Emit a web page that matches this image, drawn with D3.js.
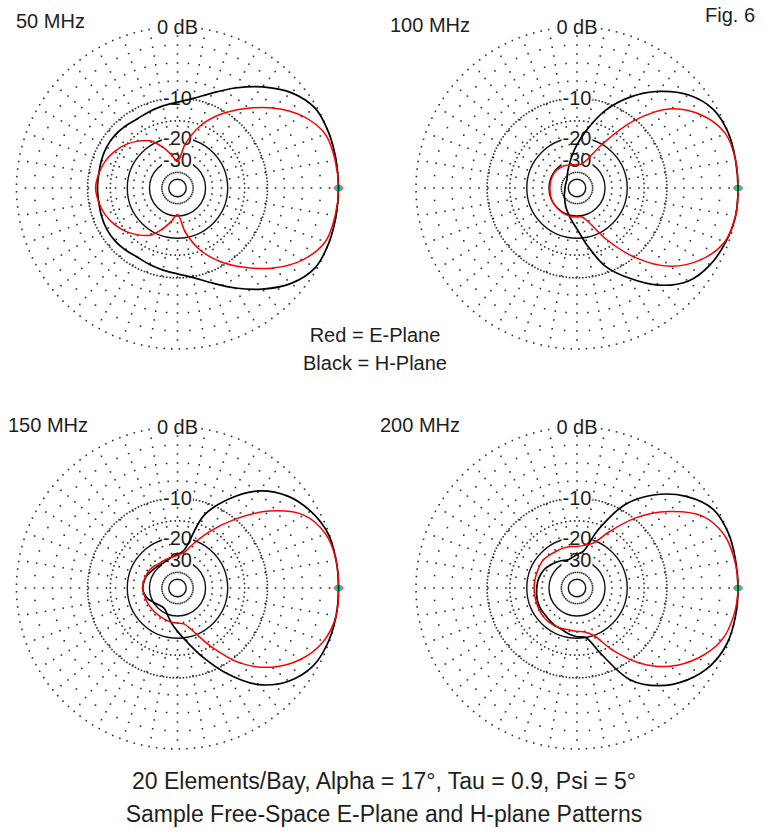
<!DOCTYPE html>
<html>
<head>
<meta charset="utf-8">
<script src="https://cdn.jsdelivr.net/npm/d3@7"></script>
<style>
  body { margin: 0; background: #fff; }
  svg text { font-family: Arial, "Liberation Sans", sans-serif; fill: #1e1e1e; }
</style>
</head>
<body>
<svg id="chart" width="767" height="836"></svg>
<script>
// Azimuth angles (degrees, counter-clockwise from the forward direction)
const angles = [0, 10, 20, 30, 40, 50, 60, 70, 80, 90, 100, 110, 120, 130, 140, 150, 160, 170,
                180, 190, 200, 210, 220, 230, 240, 250, 260, 270, 280, 290, 300, 310, 320, 330, 340, 350];

const freqLabels = ["50 MHz", "100 MHz", "150 MHz", "200 MHz"];
const ringLevels = [0, -10, -20, -30, -40, -50];
const ringLabels = ["0 dB", "-10", "-20", "-30"];

// Relative field strength in dB, one value per azimuth angle
const ePlane50 = [0, -0.1, -0.4, -1.9, -4.4, -7.6, -11, -15.3, -22, -31, -27, -22.5, -18.6, -16.6, -14.9, -13.6, -12.6, -12,
                  -11.6, -12, -12.6, -13.6, -14.9, -16.6, -18.6, -22.5, -27, -31, -22, -15.3, -11, -7.6, -4.4, -1.9, -0.4, -0.1];
const hPlane50 = [0, 0, 0, -0.2, -1.4, -3.4, -5.7, -8, -9.8, -10.8, -11.3, -11.7, -12, -11.8, -11.6, -11.6, -11.8, -12,
                  -12, -12, -11.8, -11.6, -11.6, -11.8, -12, -11.7, -11.3, -10.8, -9.8, -8, -5.7, -3.4, -1.4, -0.2, 0, 0];

const ePlane100 = [0, 0, -0.3, -1.8, -4.6, -10.5, -19.8, -28.5, -32.5, -33, -33, -32.5, -31.5, -31, -30.6, -30.5, -30.5, -30.6,
                   -30.6, -30.5, -30.2, -30, -30, -29.8, -29.6, -29.5, -29.5, -29.4, -29.2, -25, -17, -9.8, -4.8, -2, -0.4, 0];
const hPlane100 = [0, 0, 0, -0.4, -1.8, -4.2, -7.4, -11.5, -17, -22.5, -28, -33, -37, -40.5, -43, -44, -44.5, -44.6,
                   -44.6, -44, -43, -41, -39.5, -37, -34, -31, -27.5, -23.5, -17.5, -11.3, -7.5, -4.1, -1.8, -0.8, -0.3, 0];

const ePlane150 = [0, 0, -0.35, -1.7, -5.1, -10, -15.4, -21, -25.8, -27.3, -28, -28.3, -28.5, -28.3, -27.5, -27, -26.8, -26.5,
                   -26.3, -26.6, -26.9, -27, -27.1, -27.1, -27, -26.7, -26.3, -26.2, -25.5, -21.5, -14.8, -8.5, -4.6, -2.1, -0.6, 0];
const hPlane150 = [0, 0, -0.1, -0.8, -2, -4.1, -7.7, -12.6, -24.5, -27, -28, -29, -29.6, -29.3, -28.7, -28, -27, -26.6,
                   -26.3, -26.8, -28, -30, -31.5, -32.5, -32, -29.5, -26, -22.5, -18.5, -13.5, -8.4, -4.2, -1.8, -0.5, -0.1, 0];

const ePlane200 = [0, -0.1, -0.5, -1.9, -5.2, -9.7, -15.5, -20.8, -22.5, -23.3, -23, -23, -23, -22.7, -22.3, -22.5, -22.7, -22.7,
                   -22.7, -22.7, -22.6, -22.4, -22.2, -22.2, -22.4, -22.6, -22.8, -22.5, -22, -19.7, -13.8, -8.5, -4.8, -2.4, -0.8, -0.2];
const hPlane200 = [0, 0, 0, -0.4, -2.1, -4.8, -8.8, -16.4, -25, -27, -28.5, -29, -28, -27, -26, -25, -24.4, -24,
                   -23.8, -23.5, -23.2, -23.1, -23.2, -22.9, -22.5, -22.2, -21.2, -20.5, -20, -14.3, -7.2, -4, -2, -0.7, -0.1, 0];

const panels = [
  { title: freqLabels[0], e: ePlane50,  h: hPlane50,  cx: 177.5, cy: 188, tx: 16,  ty: 28 },
  { title: freqLabels[1], e: ePlane100, h: hPlane100, cx: 577,   cy: 188, tx: 390, ty: 32 },
  { title: freqLabels[2], e: ePlane150, h: hPlane150, cx: 177.5, cy: 588, tx: 8,   ty: 432 },
  { title: freqLabels[3], e: ePlane200, h: hPlane200, cx: 577,   cy: 588, tx: 380, ty: 432 }
];

const R = 161;
const svg = d3.select("#chart");

// ARRL log-periodic radial scale: radius shrinks by 0.89 for every 2 dB.
// A log scale from radius to dB, inverted, turns dB into radius.
const dbOfRadius = d3.scaleLog()
  .domain([R * Math.pow(0.89, 30), R])
  .range([-60, 0]);
const radius = db => dbOfRadius.invert(db);

// Degrees to radians for d3.lineRadial (0 = up, clockwise) and for plain trig
const toRadial = d3.scaleLinear().domain([0, 360]).range([Math.PI / 2, Math.PI / 2 - 2 * Math.PI]);
const toRad = d3.scaleLinear().domain([0, 360]).range([0, 2 * Math.PI]);

const gridColor = "#2e2e2e";
const dot = 1.6;

function dotRing(g, r, spacing) {
  const n = Math.max(12, Math.round(2 * Math.PI * r / spacing));
  g.append("g").selectAll("rect")
    .data(d3.range(n))
    .join("rect")
    .attr("x", i => r * Math.cos(2 * Math.PI * i / n) - dot / 2)
    .attr("y", i => -r * Math.sin(2 * Math.PI * i / n) - dot / 2)
    .attr("width", dot).attr("height", dot)
    .attr("fill", gridColor);
}

function dotSpoke(g, deg, r0, r1, step) {
  const a = toRad(deg);
  g.append("g").selectAll("rect")
    .data(d3.range(r1 - step, r0, -step))
    .join("rect")
    .attr("x", r => r * Math.cos(a) - dot / 2)
    .attr("y", r => -r * Math.sin(a) - dot / 2)
    .attr("width", dot).attr("height", dot)
    .attr("fill", gridColor);
}

panels.forEach(p => {
  const g = svg.append("g").attr("transform", `translate(${p.cx},${p.cy})`);

  // Radial grid: 10-degree spokes, extra 5-degree spokes on the outer part
  for (let deg = 0; deg < 360; deg += 10) dotSpoke(g, deg, radius(-27), R, 9);
  for (let deg = 5; deg < 360; deg += 10) dotSpoke(g, deg, radius(-10), R, 18);

  // Level rings
  dotRing(g, radius(0), 7.6);
  dotRing(g, radius(-10), 3.3);
  dotRing(g, radius(-15), 4.5);
  g.append("circle").attr("r", radius(-20)).attr("fill", "none").attr("stroke", "#111").attr("stroke-width", 1.4);
  g.append("circle").attr("r", radius(-30)).attr("fill", "none").attr("stroke", "#111").attr("stroke-width", 1.4);
  dotRing(g, radius(-40), 2.2);
  g.append("circle").attr("r", radius(-50)).attr("fill", "none").attr("stroke", "#111").attr("stroke-width", 1.4);

  // Ring labels along the upward spoke
  ringLabels.forEach((lab, i) => {
    const y = -radius(ringLevels[i]);
    const t = g.append("text")
      .attr("x", 0).attr("y", y).attr("dy", "0.36em")
      .attr("text-anchor", "middle")
      .attr("font-size", 20)
      .text(lab);
    const bb = t.node().getBBox();
    g.insert("rect", "text")
      .attr("x", bb.x - 1).attr("y", y - 6).attr("width", bb.width + 2).attr("height", 12)
      .attr("fill", "#fff");
  });

  const line = d3.lineRadial()
    .angle(d => toRadial(d.a))
    .radius(d => radius(d.db))
    .curve(d3.curveCatmullRomClosed.alpha(0.5));

  const hData = angles.map((a, i) => ({ a, db: p.h[i] }));
  const eData = angles.map((a, i) => ({ a, db: p.e[i] }));

  g.append("path").attr("d", line(hData)).attr("fill", "none").attr("stroke", "#000").attr("stroke-width", 1.7);
  g.append("path").attr("d", line(eData)).attr("fill", "none").attr("stroke", "#ff0000").attr("stroke-width", 1.5);

  // Peak marker at 0 degrees, 0 dB
  const mx = radius(0);
  g.append("ellipse").attr("cx", mx).attr("cy", 0).attr("rx", 5).attr("ry", 3).attr("fill", "#ff40ff");
  g.append("circle").attr("cx", mx).attr("cy", 0).attr("r", 3.6).attr("fill", "#22dd22");
  g.append("rect").attr("x", mx - 1).attr("y", -3.5).attr("width", 2).attr("height", 7).attr("fill", "#1a1acc");

  svg.append("text").attr("x", p.tx).attr("y", p.ty).attr("font-size", 20).text(p.title);
});

svg.append("text").attr("x", 705).attr("y", 22).attr("font-size", 20).text("Fig. 6");

svg.append("text").attr("x", 375).attr("y", 342).attr("text-anchor", "middle").attr("font-size", 20).text("Red = E-Plane");
svg.append("text").attr("x", 375).attr("y", 370).attr("text-anchor", "middle").attr("font-size", 20).text("Black = H-Plane");

svg.append("text").attr("x", 384).attr("y", 789).attr("text-anchor", "middle").attr("font-size", 23)
  .text("20 Elements/Bay, Alpha = 17\u00B0, Tau = 0.9, Psi = 5\u00B0");
svg.append("text").attr("x", 384).attr("y", 822).attr("text-anchor", "middle").attr("font-size", 23)
  .text("Sample Free-Space E-Plane and H-plane Patterns");
</script>
</body>
</html>
